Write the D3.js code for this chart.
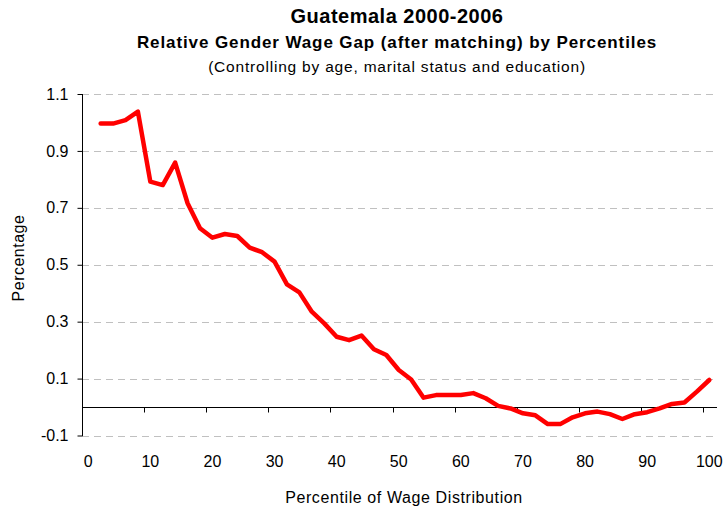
<!DOCTYPE html>
<html><head><meta charset="utf-8">
<script src="https://cdn.jsdelivr.net/npm/d3@7/dist/d3.min.js"></script>
<style>body{margin:0;background:#fff}svg{display:block}text{font-family:Arial,"Liberation Sans",sans-serif;fill:#000}</style>
</head><body><svg id="c" width="727" height="511"></svg>
<script>
const percentiles = [2,4,6,8,10,12,14,16,18,20,22,24,26,28,30,32,34,36,38,40,42,44,46,48,50,52,54,56,58,60,62,64,66,68,70,72,74,76,78,80,82,84,86,88,90,92,94,96,98,100];
const gap = [0.996,0.996,1.008,1.038,0.792,0.780,0.859,0.716,0.628,0.595,0.608,0.601,0.560,0.544,0.511,0.431,0.403,0.335,0.294,0.247,0.235,0.251,0.203,0.183,0.130,0.097,0.033,0.042,0.042,0.042,0.049,0.031,0.004,-0.005,-0.022,-0.029,-0.060,-0.060,-0.036,-0.022,-0.016,-0.025,-0.042,-0.025,-0.018,-0.005,0.011,0.016,0.054,0.095];
const xTickLabels = [0,10,20,30,40,50,60,70,80,90,100];
const yTicks = [-0.1,0.1,0.3,0.5,0.7,0.9,1.1];
const titles = ["Guatemala 2000-2006","Relative Gender Wage Gap (after matching) by Percentiles","(Controlling by age, marital status and education)"];

const svg = d3.select("#c");
const x = d3.scaleLinear().domain([-1,101]).range([82,715.5]);
const y = d3.scaleLinear().domain([-0.1,1.1]).range([435.5,94]);

// gridlines
svg.append("g").selectAll("line").data(yTicks).join("line")
  .attr("x1",82).attr("x2",716).attr("y1",d=>Math.round(y(d))+0.5).attr("y2",d=>Math.round(y(d))+0.5)
  .attr("stroke","#c0c0c0").attr("stroke-dasharray","7,5");

// y axis
const yAxis = d3.axisLeft(y).tickValues(yTicks).tickSize(5).tickPadding(9).tickFormat(d=>d.toFixed(1));
const gy = svg.append("g").attr("transform","translate(82.5,0)").call(yAxis);
gy.select(".domain").attr("d","M0,94V436").attr("stroke","#000");
gy.selectAll(".tick line").attr("stroke","#000");
gy.selectAll("text").style("font-size","16px").style("font-family","Arial, 'Liberation Sans', sans-serif").attr("fill","#000");

// x axis at zero line
const x0 = Math.round(y(0))+0.5;
svg.append("line").attr("x1",82).attr("x2",717).attr("y1",x0).attr("y2",x0).attr("stroke","#000");
svg.append("g").selectAll("line").data(xTickLabels.slice(1).map(d=>d-1)).join("line")
  .attr("x1",d=>Math.round(x(d))+0.5).attr("x2",d=>Math.round(x(d))+0.5)
  .attr("y1",x0).attr("y2",x0+5).attr("stroke","#000");
svg.append("g").selectAll("text").data(xTickLabels).join("text")
  .attr("x",d=>x(d)).attr("y",467).attr("text-anchor","middle").style("font-size","16px").text(d=>d);

// line
const line = d3.line().x((d,i)=>x(percentiles[i])).y(d=>y(d));
svg.append("path").datum(gap).attr("d",line).attr("fill","none")
  .attr("stroke","#ff0000").attr("stroke-width",4.5).attr("stroke-linejoin","round").attr("stroke-linecap","round");

// titles
svg.append("text").attr("x",397).attr("y",23).attr("text-anchor","middle").style("font-size","20px").style("letter-spacing","0.5px").style("font-weight","bold").text(titles[0]);
svg.append("text").attr("x",397).attr("y",48).attr("text-anchor","middle").style("font-size","17px").style("letter-spacing","0.9px").style("font-weight","bold").text(titles[1]);
svg.append("text").attr("x",397).attr("y",72).attr("text-anchor","middle").style("font-size","15.5px").style("letter-spacing","0.8px").text(titles[2]);

// axis titles
svg.append("text").attr("x",404).attr("y",503).attr("text-anchor","middle").style("font-size","16px").style("letter-spacing","0.6px").text("Percentile of Wage Distribution");
svg.append("text").attr("transform","translate(24,258) rotate(-90)").attr("text-anchor","middle").style("font-size","16px").style("letter-spacing","0.5px").text("Percentage");
</script></body></html>
